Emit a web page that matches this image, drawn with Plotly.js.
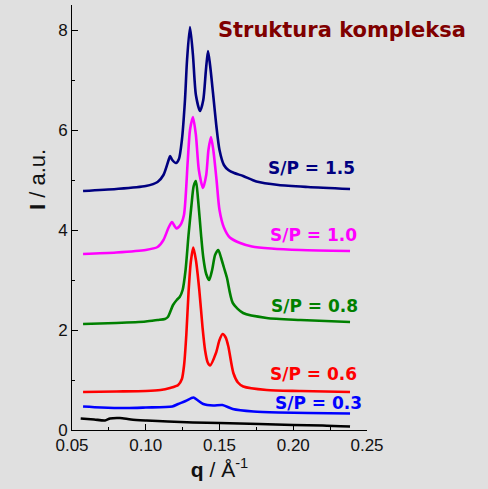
<!DOCTYPE html>
<html><head><meta charset="utf-8">
<script src="https://cdn.plot.ly/plotly-3.0.1.min.js"></script>
<style>html,body{margin:0;padding:0;background:#e0e0e0;}</style>
</head><body><div id="chart" style="width:488px;height:489px;"></div>
<script>
// ---- data ----
const qNavy = [0.0575,0.08,0.10,0.108,0.112,0.1155,0.1165,0.118,0.1205,0.1225,0.1245,0.1266,0.128,0.130,0.132,0.134,0.1368,0.139,0.1408,0.1422,0.1436,0.1456,0.1478,0.150,0.153,0.156,0.160,0.166,0.175,0.190,0.210,0.2385];
const iNavy = [4.78,4.82,4.88,4.96,5.1,5.4,5.48,5.4,5.34,5.42,5.8,6.6,7.4,8.06,7.5,6.7,6.38,6.6,7.2,7.58,7.3,6.74,6.1,5.6,5.3,5.2,5.14,5.08,4.97,4.9,4.86,4.82];

const qMag = [0.0575,0.08,0.10,0.108,0.112,0.1155,0.1178,0.1195,0.1208,0.1235,0.1259,0.1285,0.130,0.132,0.134,0.136,0.1388,0.141,0.1425,0.1442,0.1458,0.148,0.150,0.153,0.157,0.164,0.172,0.185,0.205,0.2385];
const iMag = [3.52,3.55,3.6,3.66,3.8,4.05,4.16,4.08,4.03,4.1,4.3,5.4,6.0,6.26,5.9,5.2,4.84,5.1,5.6,5.86,5.6,5.0,4.4,4.05,3.85,3.74,3.67,3.63,3.6,3.58];

const qGreen = [0.0575,0.08,0.10,0.108,0.113,0.115,0.1185,0.121,0.123,0.125,0.127,0.129,0.131,0.1325,0.134,0.1355,0.1375,0.139,0.141,0.143,0.145,0.147,0.1492,0.151,0.153,0.155,0.159,0.166,0.182,0.205,0.2385];
const iGreen = [2.12,2.14,2.17,2.2,2.22,2.26,2.5,2.6,2.66,2.8,3.2,3.9,4.5,4.88,4.98,4.6,3.9,3.45,3.12,3.0,3.2,3.5,3.6,3.45,3.25,3.05,2.54,2.34,2.24,2.2,2.16];

const qRed = [0.0575,0.08,0.10,0.11,0.1164,0.122,0.1245,0.126,0.1275,0.129,0.1305,0.1322,0.134,0.1363,0.1385,0.1402,0.142,0.1436,0.1476,0.150,0.1521,0.1542,0.156,0.1594,0.1625,0.1661,0.182,0.205,0.2385];
const iRed = [0.76,0.77,0.78,0.8,0.84,0.9,1.02,1.3,1.9,2.75,3.35,3.65,3.4,2.8,2.05,1.6,1.35,1.29,1.54,1.8,1.92,1.85,1.67,1.14,0.95,0.87,0.8,0.78,0.76];

const qBlue = [0.0575,0.07,0.087,0.10,0.118,0.122,0.127,0.1323,0.135,0.139,0.1457,0.152,0.159,0.173,0.19,0.21,0.2385];
const iBlue = [0.47,0.45,0.44,0.45,0.47,0.52,0.58,0.65,0.6,0.52,0.49,0.5,0.42,0.37,0.35,0.34,0.33];

const qBlack = [0.0559,0.065,0.0724,0.0758,0.0825,0.09,0.1006,0.115,0.132,0.15,0.177,0.20,0.22,0.2385];
const iBlack = [0.23,0.21,0.19,0.23,0.24,0.21,0.19,0.17,0.15,0.14,0.12,0.1,0.09,0.07];

const seriesLabels = ["S/P = 1.5","S/P = 1.0","S/P = 0.8","S/P = 0.6","S/P = 0.3"];
const labelQ = [0.2127,0.2134,0.2147,0.2134,0.2168];
const labelI = [5.24,3.9,2.48,1.12,0.54];
const xTicks = [0.05,0.10,0.15,0.20,0.25];
const xTickText = ["0.05","0.10","0.15","0.20","0.25"];
const yTicks = [0,2,4,6,8];

const colors = ["#000080","#ff00ff","#008000","#ff0000","#0000ff","#000000"];
const qs = [qNavy,qMag,qGreen,qRed,qBlue,qBlack];
const is = [iNavy,iMag,iGreen,iRed,iBlue,iBlack];

const traces = qs.map((q,k)=>({
  x:q, y:is[k], type:'scatter', mode:'lines',
  line:{color:colors[k], width:2.6, shape:'spline', smoothing:0.7},
  hoverinfo:'skip', showlegend:false
}));

const annotations = seriesLabels.map((t,k)=>({
  x:labelQ[k], y:labelI[k], xref:'x', yref:'y', text:'<b>'+t+'</b>',
  showarrow:false, xanchor:'center', yanchor:'middle',
  font:{family:'DejaVu Sans, sans-serif', size:17, color:colors[k]}
}));
annotations.push({
  xref:'paper', yref:'paper', x:(37-72)/295, y:(430-180)/425, textangle:-90,
  text:'<b>I</b> / a.u.', showarrow:false, xanchor:'center', yanchor:'middle',
  font:{family:'Liberation Sans, Arial, sans-serif', size:22, color:'#111'}
});

const layout = {
  width:488, height:489,
  paper_bgcolor:'#e0e0e0', plot_bgcolor:'#e0e0e0',
  margin:{l:72, r:121, t:5, b:59},
  title:{text:'<b>Struktura kompleksa</b>', xref:'paper', x:0.915, xanchor:'center',
         yref:'container', y:1-30/489, yanchor:'middle',
         font:{family:'DejaVu Sans, sans-serif', size:21, color:'#800000'}},
  xaxis:{range:[0.05,0.25], showline:true, linecolor:'#000', linewidth:1,
         ticks:'inside', ticklen:6, tickcolor:'#000', tickvals:xTicks, ticktext:xTickText,
         minor:{ticks:'inside', ticklen:3, tickcolor:'#000', dtick:0.025, tick0:0.05, showgrid:false},
         showgrid:false, zeroline:false,
         tickfont:{family:'Liberation Sans, Arial, sans-serif', size:17, color:'#111'},
         title:{text:'<b>q</b> / Å<sup>-1</sup>', standoff:6,
                font:{family:'Liberation Sans, Arial, sans-serif', size:21, color:'#111'}}},
  yaxis:{range:[0,8.5], showline:true, linecolor:'#000', linewidth:1,
         ticks:'inside', ticklen:6, tickcolor:'#000', tickvals:yTicks,
         minor:{ticks:'inside', ticklen:3, tickcolor:'#000', dtick:1, tick0:0, showgrid:false},
         showgrid:false, zeroline:false,
         tickfont:{family:'Liberation Sans, Arial, sans-serif', size:17, color:'#111'}},
  annotations:annotations
};

Plotly.newPlot('chart', traces, layout, {staticPlot:true, displayModeBar:false});
</script></body></html>
